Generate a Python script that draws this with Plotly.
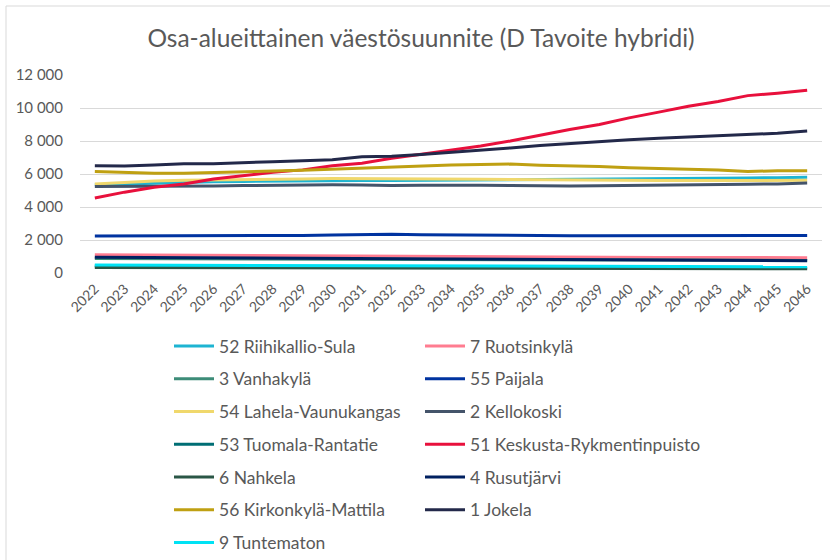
import plotly.graph_objects as go

years = [str(y) for y in range(2022, 2047)]

riihikallio = [5350,5400,5450,5500,5530,5550,5570,5580,5590,5600,5600,5610,5620,5630,5640,5650,5660,5670,5690,5710,5730,5750,5760,5780,5800]
ruotsinkyla = [1100,1090,1080,1070,1060,1050,1040,1030,1020,1010,1000,990,980,975,970,965,960,955,950,945,940,935,930,930,930]
vanhakyla = [880,875,870,865,860,855,850,845,840,835,830,825,820,815,810,805,800,795,790,785,780,775,770,765,760]
paijala = [2250,2250,2250,2250,2250,2260,2270,2280,2300,2330,2350,2320,2300,2290,2280,2270,2260,2260,2260,2260,2260,2260,2250,2260,2270]
lahela = [5400,5500,5580,5620,5650,5680,5700,5700,5720,5720,5720,5710,5700,5680,5660,5640,5620,5610,5600,5600,5600,5600,5600,5610,5620]
kellokoski = [5250,5250,5260,5270,5280,5300,5320,5350,5350,5330,5300,5320,5330,5320,5300,5280,5280,5290,5300,5320,5340,5360,5380,5400,5450]
tuomala = [420,415,410,400,395,390,385,380,375,370,365,360,355,350,345,340,335,330,325,320,315,310,305,300,300]
keskusta = [4550,4900,5200,5400,5700,5900,6100,6250,6500,6650,6950,7200,7450,7700,8000,8350,8700,9000,9400,9750,10100,10400,10750,10900,11080]
nahkela = [330,325,320,315,310,305,300,300,295,290,290,285,280,280,275,275,270,270,265,265,260,260,260,255,255]
rusutjarvi = [960,950,940,930,920,910,900,890,880,870,860,850,840,830,820,810,800,790,780,770,765,760,755,750,745]
kirkonkyla = [6150,6100,6050,6050,6080,6120,6180,6230,6300,6350,6400,6480,6540,6570,6600,6530,6500,6450,6380,6350,6300,6250,6150,6200,6200]
jokela = [6500,6480,6550,6620,6620,6700,6750,6800,6870,7050,7080,7180,7300,7450,7580,7720,7850,7950,8080,8160,8230,8300,8380,8470,8600]
tuntematon = [480,475,470,465,460,455,450,445,440,435,430,425,420,415,410,405,400,395,390,390,385,385,380,380,380]

y_tickvals = [0, 2000, 4000, 6000, 8000, 10000, 12000]
y_ticktext = ["0", "2 000", "4 000", "6 000", "8 000", "10 000", "12 000"]

series = [
    ("52 Riihikallio-Sula", riihikallio, "#1DB4D2", "legend"),
    ("7 Ruotsinkylä", ruotsinkyla, "#FF7C90", "legend2"),
    ("3 Vanhakylä", vanhakyla, "#3D8C78", "legend"),
    ("55 Paijala", paijala, "#0033A0", "legend2"),
    ("54 Lahela-Vaunukangas", lahela, "#F0D86C", "legend"),
    ("2 Kellokoski", kellokoski, "#44546A", "legend2"),
    ("53 Tuomala-Rantatie", tuomala, "#006E74", "legend"),
    ("51 Keskusta-Rykmentinpuisto", keskusta, "#E8103C", "legend2"),
    ("6 Nahkela", nahkela, "#2A5646", "legend"),
    ("4 Rusutjärvi", rusutjarvi, "#002060", "legend2"),
    ("56 Kirkonkylä-Mattila", kirkonkyla, "#BFA012", "legend"),
    ("1 Jokela", jokela, "#23294A", "legend2"),
    ("9 Tuntematon", tuntematon, "#00E2F4", "legend"),
]

fig = go.Figure()
for name, vals, color, leg in series:
    fig.add_trace(go.Scatter(
        x=years, y=vals, name=name, mode="lines",
        line=dict(color=color, width=3),
        legend=leg, legendgroup=name,
    ))

FONT = "Lato, 'Open Sans', sans-serif"
GREY = "#595959"

PL, PR, PT, PB = 80, 822, 75, 273
PW, PH = PR - PL, PB - PT

def px_x(p):
    return (p - PL) / PW

def px_y(p):
    return (PB - p) / PH

legend_common = dict(
    orientation="v", yanchor="top", xanchor="left",
    bgcolor="rgba(0,0,0,0)", tracegroupgap=7,
    font=dict(family=FONT, size=17.5, color=GREY),
    itemwidth=40,
)

fig.update_layout(
    width=830, height=560,
    margin=dict(l=PL, r=830 - PR, t=PT, b=560 - PB, autoexpand=False),
    paper_bgcolor="white", plot_bgcolor="white",
    font=dict(family=FONT, color=GREY),
    title=dict(text="Osa-alueittainen väestösuunnite (D Tavoite hybridi)",
               x=421 / 830, xanchor="center", y=1 - 38 / 560, yanchor="middle",
               font=dict(family=FONT, size=24.5, color=GREY)),
    xaxis=dict(type="category", range=[-0.5, 24.5], showgrid=False,
               tickangle=-45, tickfont=dict(size=14, color=GREY),
               ticks="", showline=False, zeroline=False, ticklabelstandoff=4),
    yaxis=dict(range=[0, 12000], tickvals=y_tickvals, ticktext=y_ticktext,
               showgrid=True, gridcolor="#D9D9D9", gridwidth=1,
               zeroline=False, showline=False, ticks="",
               tickfont=dict(size=15, color=GREY), ticklabelstandoff=16),
    legend=dict(x=px_x(169), y=px_y(328), **legend_common),
    legend2=dict(x=px_x(420), y=px_y(328), **legend_common),
    showlegend=True,
    shapes=[dict(type="rect", xref="paper", yref="paper",
                 x0=px_x(6), x1=px_x(850),
                 y0=px_y(580), y1=px_y(6),
                 line=dict(color="#D9D9D9", width=1), layer="below")],
)

fig.write_html("out.html",
               config={"displayModeBar": False},
               post_script="document.body.style.margin='0';document.body.style.overflow='hidden';")
